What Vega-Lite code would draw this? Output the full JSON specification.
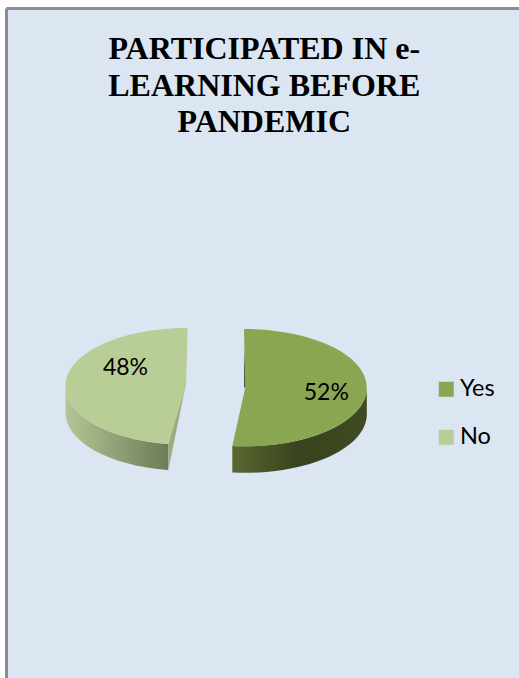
{
  "$schema": "https://vega.github.io/schema/vega-lite/v6.json",
  "autosize": "none",
  "width": 512.5,
  "height": 669.5,
  "padding": {"left": 6.5, "top": 8.5, "right": 0, "bottom": 0},
  "background": "#ffffff",
  "view": {"fill": "#dce6f2", "stroke": null},
  "title": {
    "text": ["PARTICIPATED IN e-", "LEARNING BEFORE", "PANDEMIC"],
    "font": "Liberation Serif",
    "fontWeight": "bold",
    "fontSize": 32,
    "lineHeight": 36.5,
    "color": "#000000",
    "anchor": "middle",
    "frame": "group",
    "baseline": "alphabetic",
    "offset": 0,
    "dx": 1.5,
    "dy": 157
  },
  "data": {
    "values": [
      {"answer": "Yes", "share": 0.52},
      {"answer": "No", "share": 0.48}
    ]
  },
  "encoding": {
    "x": {"field": "answer", "type": "nominal", "axis": null,
      "scale": {"type": "point", "domain": ["No", "Yes"], "range": [179.5, 238.8], "padding": 0}},
    "y": {"field": "answer", "type": "nominal", "axis": null,
      "scale": {"type": "point", "domain": ["No", "Yes"], "range": [377.5, 379], "padding": 0}}
  },
  "layer": [
    {
      "description": "Frame along the top and left edges of the panel",
      "data": {"values": [{"edge": "top"}]},
      "mark": {"type": "rule", "color": "#8c8c8c", "strokeWidth": 3},
      "encoding": {"x": {"value": 0}, "x2": {"value": "width"}, "y": {"value": 0}}
    },
    {
      "data": {"values": [{"edge": "left"}]},
      "mark": {"type": "rule", "color": "#8c8c8c", "strokeWidth": 3},
      "encoding": {"x": {"value": 0}, "y": {"value": 0}, "y2": {"value": "height"}}
    },
    {
      "description": "No slice: outer wall",
      "transform": [{"filter": "datum.answer === 'No'"}],
      "mark": {"type": "point", "filled": true, "opacity": 1, "size": 4, "strokeWidth": 0,
        "shape": "M -120.5 1 L -120.5 27 A 120.5 58 0 0 0 -17.7 84 L -17.7 58 A 120.5 58 0 0 1 -120.5 1 Z",
        "fill": {"gradient": "linear", "x1": 0, "y1": 0, "x2": 1, "y2": 0,
          "stops": [{"offset": 0, "color": "#b5c596"}, {"offset": 1, "color": "#6e7b57"}]}}
    },
    {
      "description": "No slice: cut face",
      "transform": [{"filter": "datum.answer === 'No'"}],
      "mark": {"type": "point", "filled": true, "opacity": 1, "size": 4, "strokeWidth": 0,
        "shape": "M 0.5 -5 L -17.7 58 L -17.7 84 Z", "fill": "#9cab80"}
    },
    {
      "description": "Yes slice: outer wall",
      "transform": [{"filter": "datum.answer === 'Yes'"}],
      "mark": {"type": "point", "filled": true, "opacity": 1, "size": 4, "strokeWidth": 0,
        "shape": "M -13 58.5 L -13 85 A 121.5 58.5 0 0 0 121.5 28 L 121.5 1 A 121.5 58.5 0 0 1 -13 58.5 Z",
        "fill": {"gradient": "linear", "x1": 0, "y1": 0, "x2": 1, "y2": 0,
          "stops": [{"offset": 0, "color": "#586832"}, {"offset": 0.5, "color": "#38421d"}, {"offset": 1, "color": "#404b22"}]}}
    },
    {
      "description": "Yes slice: sliver of the cut face",
      "transform": [{"filter": "datum.answer === 'Yes'"}],
      "mark": {"type": "point", "filled": true, "opacity": 1, "size": 4, "strokeWidth": 0,
        "shape": "M -1 -40 L 0.5 0 L -1.2 0 Z", "fill": "#39431f"}
    },
    {
      "description": "No slice: top face",
      "transform": [{"filter": "datum.answer === 'No'"}],
      "mark": {"type": "point", "filled": true, "opacity": 1, "size": 4, "strokeWidth": 0,
        "shape": "M 0 0 L 1.7 -58 A 120.5 58 0 0 0 -120.5 1 A 120.5 58 0 0 0 -17.7 58 Z"},
      "encoding": {
        "color": {"field": "answer", "type": "nominal",
          "scale": {"domain": ["Yes", "No"], "range": ["#8ba650", "#b9cd96"]},
          "legend": {
            "title": null, "orient": "none", "legendX": 428, "legendY": 369,
            "symbolType": "square", "symbolSize": 225, "symbolStrokeWidth": 0, "symbolOpacity": 1,
            "labelFont": "Lato", "labelFontSize": 23.5, "labelColor": "#000000",
            "labelOffset": 2, "rowPadding": 23, "padding": 0
          }
        }
      }
    },
    {
      "description": "Yes slice: top face",
      "transform": [{"filter": "datum.answer === 'Yes'"}],
      "mark": {"type": "point", "filled": true, "opacity": 1, "size": 4, "strokeWidth": 0,
        "shape": "M 0 0 L -1.3 -58.5 A 121.5 58.5 0 0 1 121.5 0 A 121.5 58.5 0 0 1 -13 58.5 Z"},
      "encoding": {"color": {"field": "answer", "type": "nominal"}}
    },
    {
      "description": "Percentage label on the Yes slice",
      "transform": [{"filter": "datum.answer === 'Yes'"}],
      "mark": {"type": "text", "font": "Lato", "fontSize": 23, "color": "#000000", "dx": 81, "dy": 5, "align": "center", "baseline": "middle"},
      "encoding": {"text": {"field": "share", "type": "quantitative", "format": ".0%"}}
    },
    {
      "description": "Percentage label on the No slice",
      "transform": [{"filter": "datum.answer === 'No'"}],
      "mark": {"type": "text", "font": "Lato", "fontSize": 23, "color": "#000000", "dx": -60.5, "dy": -18, "align": "center", "baseline": "middle"},
      "encoding": {"text": {"field": "share", "type": "quantitative", "format": ".0%"}}
    }
  ]
}
